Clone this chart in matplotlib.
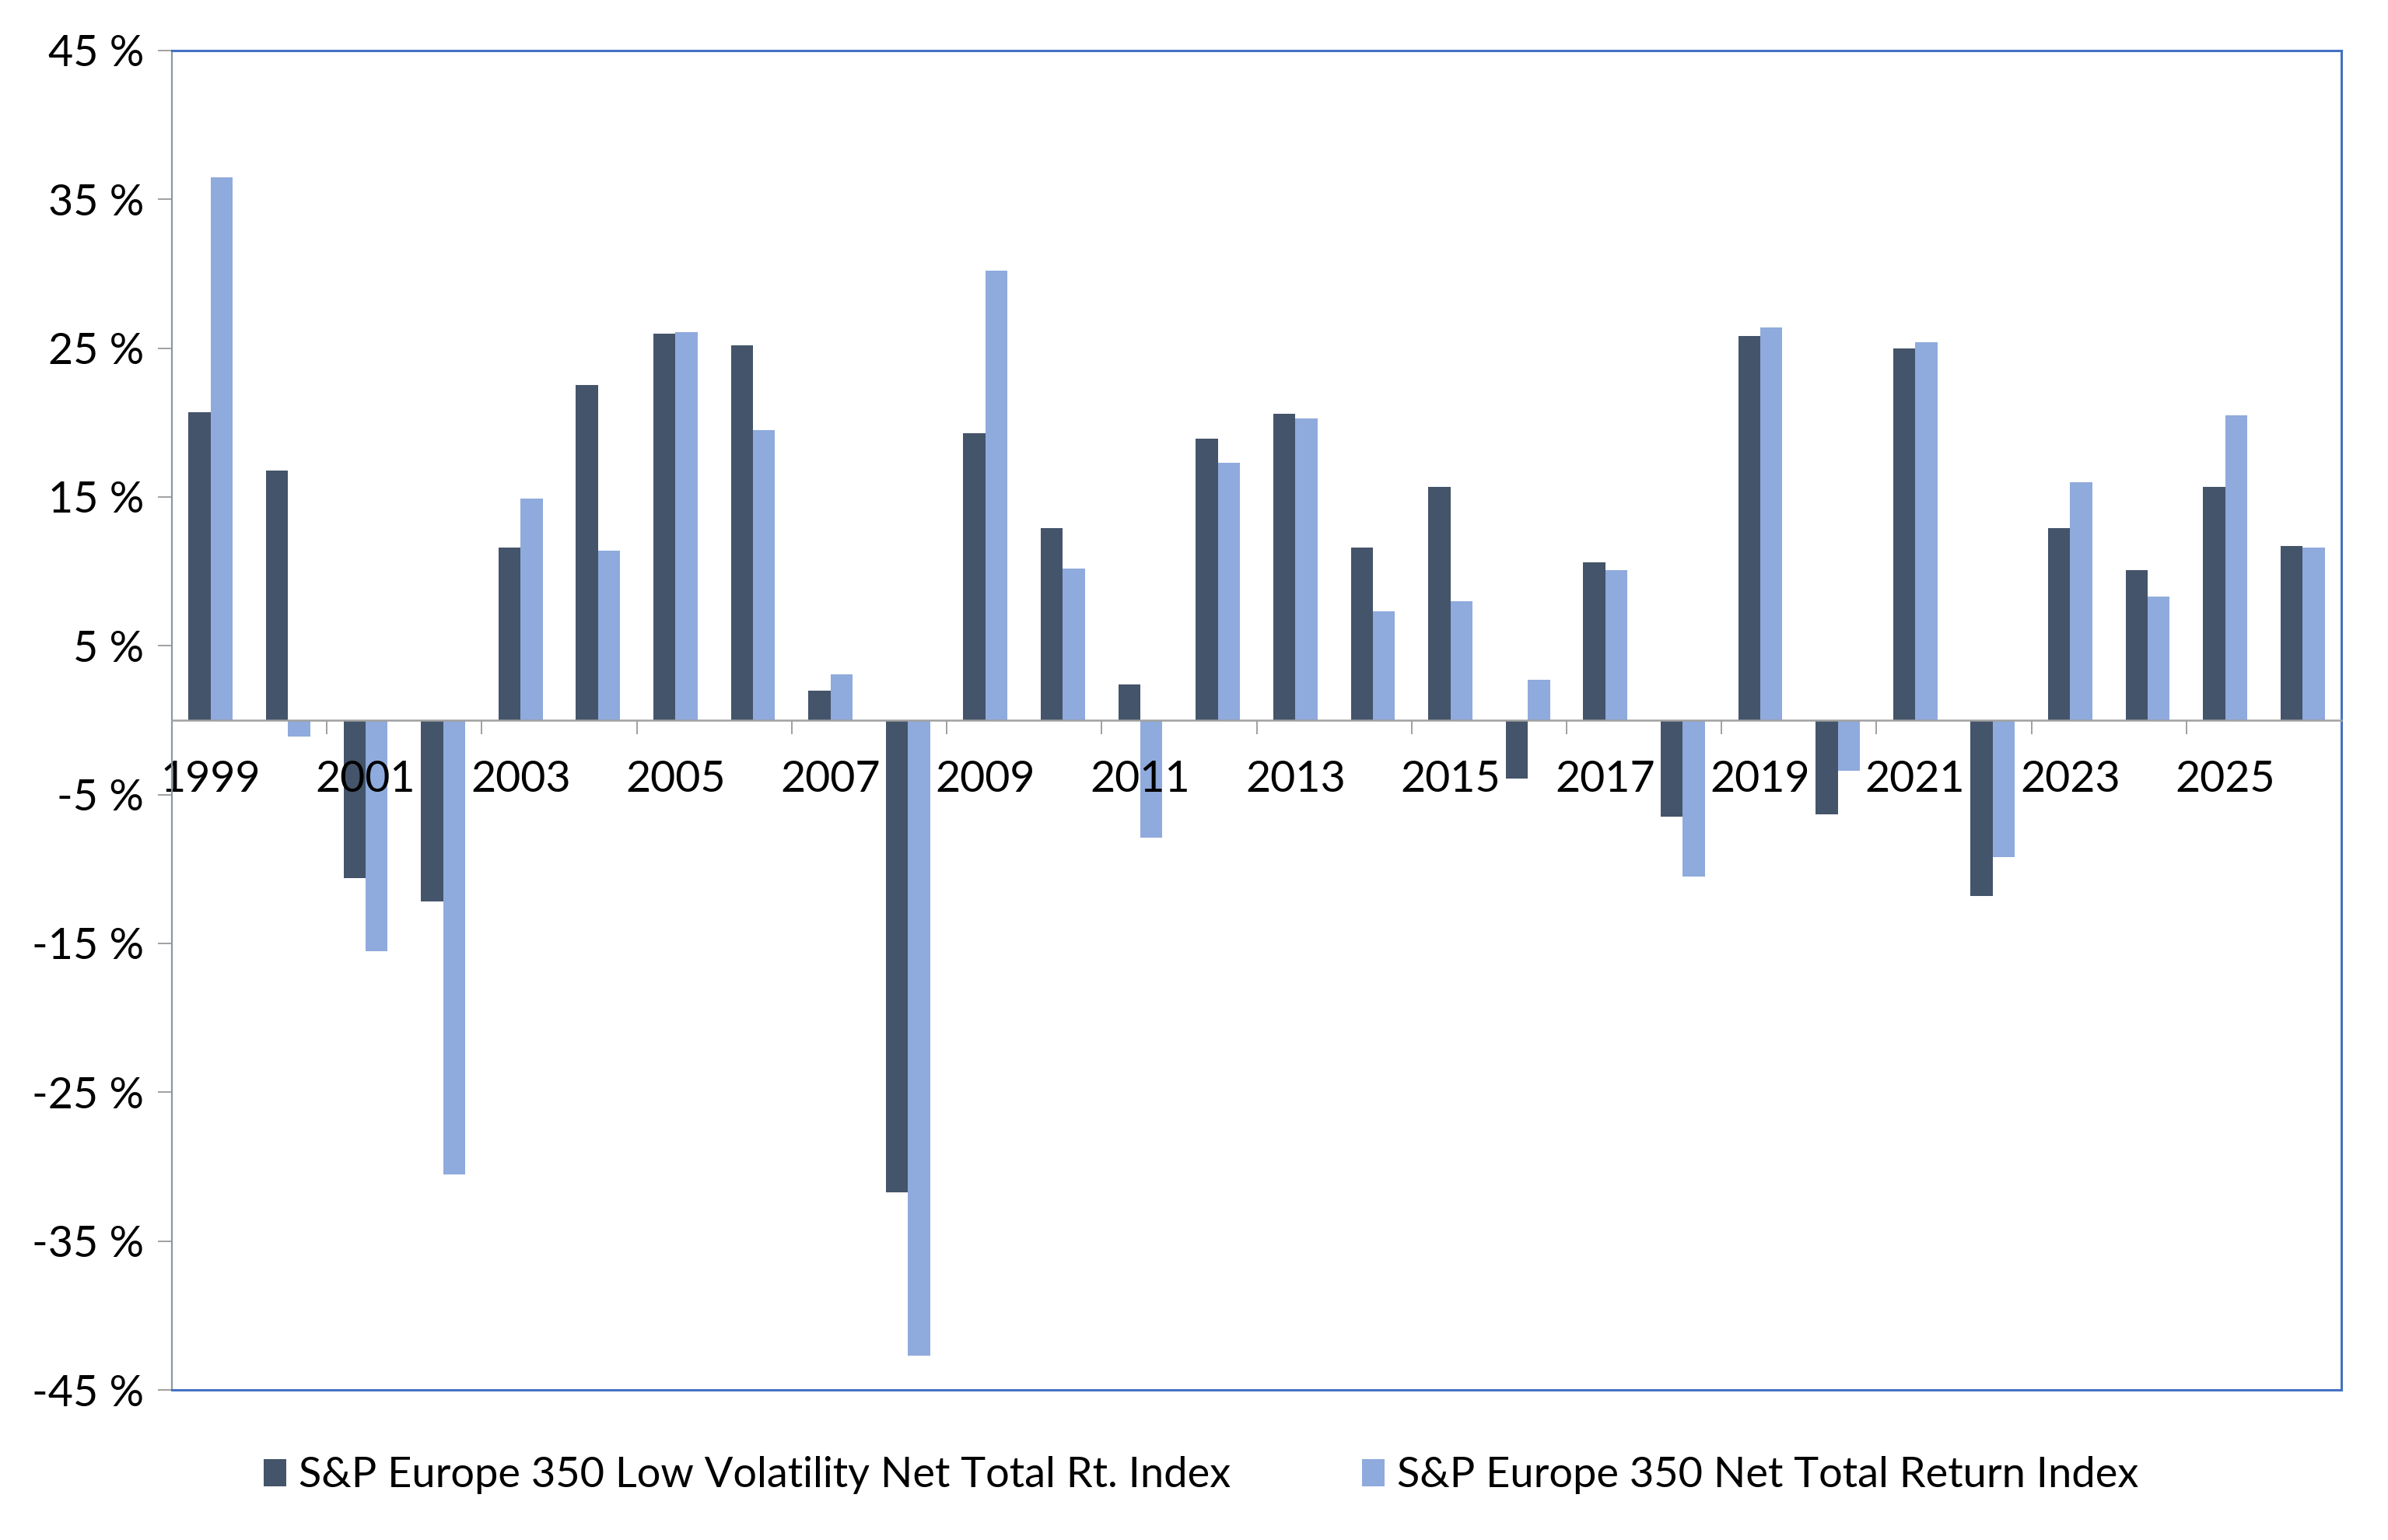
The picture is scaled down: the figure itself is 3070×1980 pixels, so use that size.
import numpy as np
import matplotlib
matplotlib.use("Agg")
import matplotlib.pyplot as plt
from matplotlib.patches import Patch

years = list(range(1999, 2027))
low_vol = [20.7, 16.8, -10.6, -12.2, 11.6, 22.5, 26.0, 25.2, 2.0, -31.7,
           19.3, 12.9, 2.4, 18.9, 20.6, 11.6, 15.7, -3.9, 10.6, -6.5,
           25.8, -6.3, 25.0, -11.8, 12.9, 10.1, 15.7, 11.7]
ntr = [36.5, -1.1, -15.5, -30.5, 14.9, 11.4, 26.1, 19.5, 3.1, -42.7,
       30.2, 10.2, -7.9, 17.3, 20.3, 7.3, 8.0, 2.7, 10.1, -10.5,
       26.4, -3.4, 25.4, -9.2, 16.0, 8.3, 20.5, 11.6]
series_names = ["S&P Europe 350 Low Volatility Net Total Rt. Index",
                "S&P Europe 350 Net Total Return Index"]
y_ticks = [-45, -35, -25, -15, -5, 5, 15, 25, 35, 45]

c_dark = "#44546A"
c_light = "#8FAADC"
c_frame = "#4472C4"
c_gray = "#A0A0A0"

plt.rcParams['font.family'] = ['Lato', 'DejaVu Sans']
FS = 40
FS_LEG = 39

fig = plt.figure(figsize=(30.7, 19.8), dpi=100)
ax = fig.add_axes([221/3070, 1 - 1787/1980, (3010-221)/3070, (1787-65)/1980])

x = np.arange(len(years))
w = 0.285
ax.bar(x - w/2, low_vol, width=w, color=c_dark, zorder=1)
ax.bar(x + w/2, ntr, width=w, color=c_light, zorder=1)

ax.set_xlim(-0.5, len(years) - 0.5)
ax.set_ylim(-45, 45)

# spines
for s in ["top", "right"]:
    ax.spines[s].set_color(c_frame)
    ax.spines[s].set_linewidth(2.2)
ax.spines["left"].set_color("#8C96A8")
ax.spines["left"].set_linewidth(1.6)
ax.spines["bottom"].set_position(("data", 0))
ax.spines["bottom"].set_color(c_gray)
ax.spines["bottom"].set_linewidth(1.8)
ax.plot([0, 1], [0, 0], transform=ax.transAxes, color=c_frame, lw=2.2,
        clip_on=False, zorder=3)

# y axis
ax.set_yticks(y_ticks)
ax.set_yticklabels([f"{v} %" for v in y_ticks])
ax.tick_params(axis="y", direction="out", length=13, width=1.4, color=c_gray,
               labelsize=FS, pad=13)

# x axis: marks at boundaries, labels at odd-year centres
ax.set_xticks(np.arange(1.5, len(years), 2))
ax.set_xticklabels([])
ax.tick_params(axis="x", which="major", direction="out", length=13, width=1.4,
               color=c_gray)
ax.set_xticks(x[::2], minor=True)
ax.set_xticklabels([str(y) for y in years[::2]], minor=True)
ax.tick_params(axis="x", which="minor", length=0, labelsize=FS, pad=37)

handles = [Patch(facecolor=c_dark), Patch(facecolor=c_light)]
fig.legend(handles, series_names, loc="center", bbox_to_anchor=(0.503, 0.042),
           ncol=2, frameon=False, fontsize=FS_LEG, handlelength=0.54,
           handleheight=0.61, handletextpad=0.3, columnspacing=3.1)

fig.savefig("out.png", dpi=100, facecolor="white")
